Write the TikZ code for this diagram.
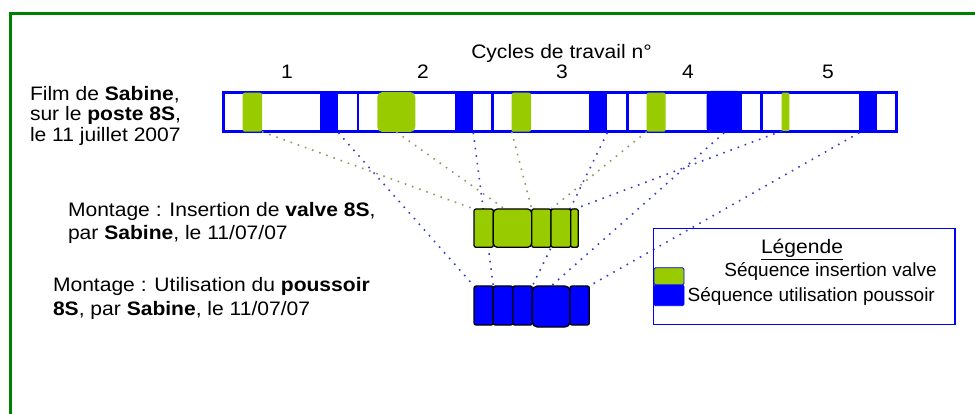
\documentclass[tikz,border=0pt]{standalone}
\usepackage{fontspec}
\setmainfont{Liberation Sans}[FakeStretch=1.08]
\newfontfamily\legfont{Liberation Sans}
\usetikzlibrary{calc}
\definecolor{vgreen}{RGB}{153,204,0}
\definecolor{pblue}{RGB}{0,0,255}
\definecolor{framegreen}{RGB}{0,128,0}
\definecolor{olivedot}{RGB}{150,150,100}
\definecolor{bluedot}{RGB}{60,60,200}
\tikzset{
  txt/.style={inner sep=0pt, outer sep=0pt, font=\fontsize{19.5}{22}\selectfont},
  legtxt/.style={inner sep=0pt, outer sep=0pt, font=\legfont\fontsize{19}{22}\selectfont},
  box/.style={rectangle, inner sep=0pt, outer sep=0pt, anchor=north west},
  gseg/.style={box, fill=vgreen, rounded corners=2pt},
  bseg/.style={box, fill=pblue},
  oline/.style={olivedot, line width=1.6pt, dash pattern=on 1.6pt off 6pt},
  bline/.style={bluedot, line width=1.6pt, dash pattern=on 1.6pt off 6pt},
}
\begin{document}
\begin{tikzpicture}[x=1pt,y=-1pt]
\useasboundingbox (0,0) rectangle (975,414);
% frame
\draw[framegreen, line width=3pt] (10,420) -- (10,14) -- (980,14);
% titles
\node[txt, anchor=base] (cyc) at (561.5,58.3) {Cycles de travail n°};
\node[txt, anchor=base] (n1) at (287,78.3) {1};
\node[txt, anchor=base] (n2) at (423,78.3) {2};
\node[txt, anchor=base] (n3) at (562,78.3) {3};
\node[txt, anchor=base] (n4) at (688,78.3) {4};
\node[txt, anchor=base] (n5) at (828,78.3) {5};
% film text
\node[txt, anchor=base west] (f1) at (30,100.7) {Film de \textbf{Sabine},};
\node[txt, anchor=base west] (f2) at (30,121) {sur le \textbf{poste 8S},};
\node[txt, anchor=base west] (f3) at (30,141.3) {le 11 juillet 2007};
% bar
\node[box, fill=pblue, minimum width=676pt, minimum height=41.7pt] (bar) at (221.7,91) {};
\foreach \a/\b in {225/320,338.3/356.7,359.3/455,473.3/491,494/589.3,607.3/625.7,629/706.7,741.7/760,763.3/859.3,877.3/895}
  \fill[white] (\a,94.3) rectangle (\b,129.7);
% blue segments
\node[bseg, minimum width=18.3pt, minimum height=41.7pt] (b1) at (320,91) {};
\node[bseg, minimum width=18.3pt, minimum height=41.7pt] (b2) at (455,91) {};
\node[bseg, minimum width=18pt, minimum height=41.7pt] (b3) at (589.3,91) {};
\node[bseg, minimum width=35pt, minimum height=41.7pt, rounded corners=4pt] (b4) at (706.7,91) {};
\node[bseg, minimum width=18pt, minimum height=41.7pt] (b5) at (859.3,91) {};
% green segments
\node[gseg, minimum width=19.3pt, minimum height=39pt] (g1) at (242.7,92.7) {};
\node[gseg, minimum width=38pt, minimum height=40pt, rounded corners=5pt] (g2) at (377.3,92) {};
\node[gseg, minimum width=19.3pt, minimum height=39pt] (g3) at (511.7,92.7) {};
\node[gseg, minimum width=19pt, minimum height=39pt] (g4) at (646.7,92.7) {};
\node[gseg, minimum width=7.6pt, minimum height=38.3pt, rounded corners=1pt] (g5) at (781.7,92.7) {};
% montage texts
\node[txt, anchor=base west] (m1) at (68,216.7) {Montage : Insertion de \textbf{valve 8S},};
\node[txt, anchor=base west] (m2) at (68,240) {par \textbf{Sabine}, le 11/07/07};
\node[txt, anchor=base west] (m3) at (53,291.7) {Montage : Utilisation du \textbf{poussoir}};
\node[txt, anchor=base west] (m4) at (53,315) {\textbf{8S}, par \textbf{Sabine}, le 11/07/07};
% block placeholders
\node[box, minimum width=19.3pt, minimum height=38.3pt] (v1) at (474,209) {};
\node[box, minimum width=38.4pt, minimum height=38.3pt] (v2) at (493.3,209) {};
\node[box, minimum width=19.3pt, minimum height=38.3pt] (v3) at (531.7,209) {};
\node[box, minimum width=19.7pt, minimum height=38.3pt] (v4) at (551,209) {};
\node[box, minimum width=7.6pt, minimum height=38.3pt] (v5) at (570.7,209) {};
\node[box, minimum width=19.3pt, minimum height=39pt] (p1) at (474,286) {};
\node[box, minimum width=19.4pt, minimum height=39pt] (p2) at (493.3,286) {};
\node[box, minimum width=19.6pt, minimum height=39pt] (p3) at (512.7,286) {};
\node[box, minimum width=37.7pt, minimum height=41pt] (p4) at (532.3,286) {};
\node[box, minimum width=19.3pt, minimum height=39pt] (p5) at (570,286) {};
% connectors
\draw[oline] (g1.south east) -- (v1.north west);
\draw[oline] (g2.south) -- ($(v2.north west)!0.3!(v2.north east)$);
\draw[oline] (g3.south west) -- (v3.north west);
\draw[oline] (g4.south west) -- (v4.north west);
\draw[bline] (g5.south west) -- (v5.north);
\draw[bline] (b1.south east) -- (p1.north west);
\draw[bline] (b2.south east) -- (p2.north west);
\draw[bline] (b3.south east) -- (p3.north east);
\draw[bline] (b4.south) -- (p4.north);
\draw[bline] (b5.south west) -- (p5.north east);
% stack blocks drawn
\draw[fill=vgreen, draw=black, line width=1.3pt, rounded corners=2pt] (v1.north west) rectangle (v1.south east);
\draw[fill=vgreen, draw=black, line width=1.3pt, rounded corners=4pt] (v2.north west) rectangle (v2.south east);
\draw[fill=vgreen, draw=black, line width=1.3pt, rounded corners=2pt] (v3.north west) rectangle (v3.south east);
\draw[fill=vgreen, draw=black, line width=1.3pt, rounded corners=2pt] (v4.north west) rectangle (v4.south east);
\draw[fill=vgreen, draw=black, line width=1.3pt, rounded corners=1.5pt] (v5.north west) rectangle (v5.south east);
\draw[fill=pblue, draw=black, line width=1.3pt, rounded corners=2pt] (p1.north west) rectangle (p1.south east);
\draw[fill=pblue, draw=black, line width=1.3pt, rounded corners=2pt] (p2.north west) rectangle (p2.south east);
\draw[fill=pblue, draw=black, line width=1.3pt, rounded corners=2pt] (p3.north west) rectangle (p3.south east);
\draw[fill=pblue, draw=black, line width=1.3pt, rounded corners=5pt] (p4.north west) rectangle (p4.south east);
\draw[fill=pblue, draw=black, line width=1.3pt, rounded corners=2pt] (p5.north west) rectangle (p5.south east);
% legend
\node[box, draw=pblue, line width=1.5pt, minimum width=301.7pt, minimum height=96pt] (leg) at (653.3,228.3) {};
\node[txt, anchor=base] (legt) at (802,254) {\underline{Légende}};
\node[box, fill=vgreen, draw=pblue, line width=0.8pt, rounded corners=1.5pt, minimum width=30pt, minimum height=17.3pt] (sw1) at (654,267.7) {};
\node[box, fill=pblue, draw=pblue, line width=0.8pt, rounded corners=1.5pt, minimum width=30pt, minimum height=20.7pt] (sw2) at (654,285) {};
\node[legtxt, anchor=base east] (l1) at (936.7,276.7) {Séquence insertion valve};
\node[legtxt, anchor=base west] (l2) at (687.7,301.7) {Séquence utilisation poussoir};
\end{tikzpicture}
\end{document}
